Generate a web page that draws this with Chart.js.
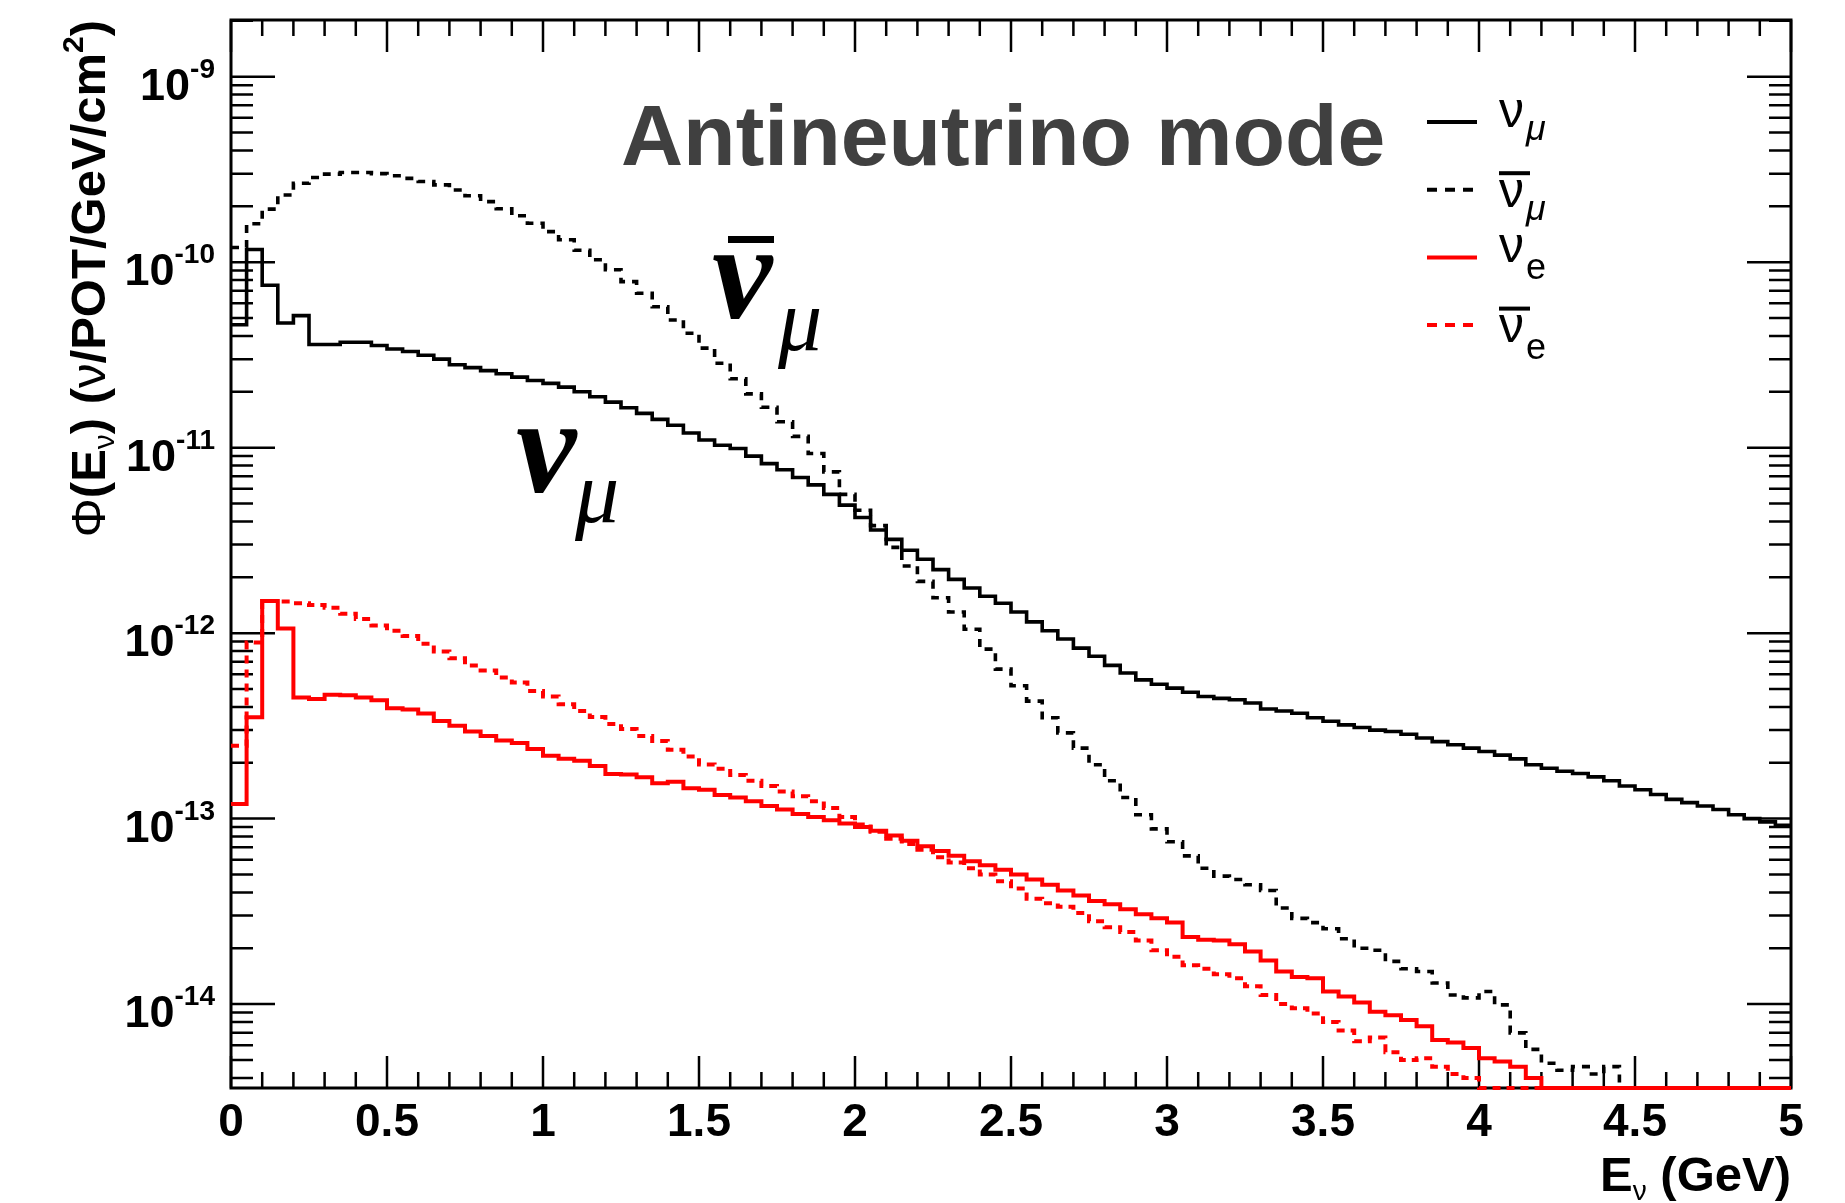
<!DOCTYPE html>
<html>
<head>
<meta charset="utf-8">
<script src="https://cdn.jsdelivr.net/npm/chart.js@4.4.1/dist/chart.umd.min.js"></script>
<style>
  html, body { margin: 0; padding: 0; background: #fff; }
  #wrap { width: 1845px; height: 1203px; }
</style>
</head>
<body>
<div id="wrap"><canvas id="fluxChart"></canvas></div>
<script>
// flux per bin, 100 bins of 0.05 GeV (0 - 5 GeV)
var binWidth = 0.05;
var xMax = 5;
var xTicks = [0, 0.5, 1, 1.5, 2, 2.5, 3, 3.5, 4, 4.5, 5];
var yTicks = [1e-14, 1e-13, 1e-12, 1e-11, 1e-10, 1e-9];
var yMin = 3.53e-15, yMax = 2.02e-9;

var numu = [4.6e-11, 1.17e-10, 7.5e-11, 4.7e-11, 5.15e-11, 3.6e-11, 3.6e-11, 3.7e-11, 3.7e-11, 3.55e-11,
  3.4e-11, 3.3e-11, 3.15e-11, 3.0e-11, 2.8e-11, 2.7e-11, 2.6e-11, 2.5e-11, 2.4e-11, 2.3e-11,
  2.22e-11, 2.12e-11, 2.0e-11, 1.88e-11, 1.76e-11, 1.64e-11, 1.53e-11, 1.42e-11, 1.32e-11, 1.2e-11,
  1.1e-11, 1.03e-11, 9.9e-12, 9.0e-12, 8.2e-12, 7.6e-12, 6.9e-12, 6.3e-12, 5.6e-12, 4.9e-12,
  4.2e-12, 3.6e-12, 3.2e-12, 2.8e-12, 2.5e-12, 2.2e-12, 1.95e-12, 1.75e-12, 1.58e-12, 1.45e-12,
  1.3e-12, 1.15e-12, 1.03e-12, 9.3e-13, 8.3e-13, 7.5e-13, 6.7e-13, 6.1e-13, 5.6e-13, 5.3e-13,
  5.05e-13, 4.8e-13, 4.55e-13, 4.45e-13, 4.37e-13, 4.2e-13, 3.9e-13, 3.8e-13, 3.7e-13, 3.5e-13,
  3.35e-13, 3.2e-13, 3.1e-13, 3.0e-13, 2.95e-13, 2.85e-13, 2.72e-13, 2.6e-13, 2.5e-13, 2.4e-13,
  2.3e-13, 2.2e-13, 2.1e-13, 1.95e-13, 1.87e-13, 1.8e-13, 1.75e-13, 1.68e-13, 1.6e-13, 1.5e-13,
  1.43e-13, 1.35e-13, 1.27e-13, 1.22e-13, 1.17e-13, 1.12e-13, 1.05e-13, 1.0e-13, 9.6e-14, 9.2e-14];

var numubar = [1.2e-10, 1.61e-10, 1.93e-10, 2.3e-10, 2.66e-10, 2.86e-10, 2.98e-10, 3.04e-10, 3.04e-10, 3.0e-10,
  2.92e-10, 2.83e-10, 2.72e-10, 2.61e-10, 2.45e-10, 2.28e-10, 2.12e-10, 1.94e-10, 1.78e-10, 1.62e-10,
  1.46e-10, 1.32e-10, 1.16e-10, 1.03e-10, 9.1e-11, 7.85e-11, 6.8e-11, 5.75e-11, 4.88e-11, 4.14e-11,
  3.44e-11, 2.85e-11, 2.35e-11, 1.95e-11, 1.65e-11, 1.38e-11, 1.15e-11, 9.3e-12, 7.4e-12, 5.6e-12,
  4.6e-12, 3.8e-12, 2.9e-12, 2.3e-12, 1.9e-12, 1.55e-12, 1.3e-12, 1.05e-12, 8.2e-13, 6.4e-13,
  5.2e-13, 4.3e-13, 3.5e-13, 2.9e-13, 2.4e-13, 1.95e-13, 1.6e-13, 1.3e-13, 1.05e-13, 8.8e-14,
  7.5e-14, 6.3e-14, 5.4e-14, 4.9e-14, 4.7e-14, 4.4e-14, 4.1e-14, 3.3e-14, 2.9e-14, 2.75e-14,
  2.55e-14, 2.25e-14, 2.0e-14, 1.95e-14, 1.7e-14, 1.55e-14, 1.5e-14, 1.3e-14, 1.12e-14, 1.08e-14,
  1.17e-14, 9.9e-15, 7.0e-15, 5.7e-15, 4.8e-15, 4.4e-15, 4.6e-15, 4.2e-15, 4.6e-15, 3.53e-15,
  3.53e-15, 3.53e-15, 3.53e-15, 3.53e-15, 3.53e-15, 3.53e-15, 3.53e-15, 3.53e-15, 3.53e-15, 3.53e-15];

var nue = [1.2e-13, 3.52e-13, 1.49e-12, 1.06e-12, 4.5e-13, 4.41e-13, 4.66e-13, 4.62e-13, 4.5e-13, 4.34e-13,
  3.93e-13, 3.88e-13, 3.69e-13, 3.36e-13, 3.17e-13, 2.95e-13, 2.79e-13, 2.64e-13, 2.56e-13, 2.37e-13,
  2.18e-13, 2.1e-13, 2.05e-13, 1.92e-13, 1.74e-13, 1.73e-13, 1.67e-13, 1.55e-13, 1.58e-13, 1.46e-13,
  1.43e-13, 1.34e-13, 1.3e-13, 1.24e-13, 1.17e-13, 1.12e-13, 1.06e-13, 1.02e-13, 9.8e-14, 9.4e-14,
  9.0e-14, 8.6e-14, 8.1e-14, 7.6e-14, 7.1e-14, 6.7e-14, 6.3e-14, 5.9e-14, 5.6e-14, 5.3e-14,
  5.0e-14, 4.7e-14, 4.4e-14, 4.1e-14, 3.85e-14, 3.6e-14, 3.45e-14, 3.25e-14, 3.05e-14, 2.9e-14,
  2.75e-14, 2.3e-14, 2.22e-14, 2.2e-14, 2.1e-14, 1.92e-14, 1.72e-14, 1.5e-14, 1.4e-14, 1.38e-14,
  1.17e-14, 1.1e-14, 1.02e-14, 9.1e-15, 8.7e-15, 8.2e-15, 7.6e-15, 6.4e-15, 6.2e-15, 5.8e-15,
  5.1e-15, 4.9e-15, 4.6e-15, 4.0e-15, 3.53e-15, 3.53e-15, 3.53e-15, 3.53e-15, 3.53e-15, 3.53e-15,
  3.53e-15, 3.53e-15, 3.53e-15, 3.53e-15, 3.53e-15, 3.53e-15, 3.53e-15, 3.53e-15, 3.53e-15, 3.53e-15];

var nuebar = [2.47e-13, 8.9e-13, 1.49e-12, 1.48e-12, 1.45e-12, 1.42e-12, 1.37e-12, 1.27e-12, 1.19e-12, 1.1e-12,
  1.03e-12, 9.64e-13, 8.77e-13, 7.96e-13, 7.31e-13, 6.7e-13, 6.29e-13, 5.77e-13, 5.42e-13, 4.87e-13,
  4.56e-13, 4.14e-13, 3.8e-13, 3.53e-13, 3.24e-13, 3.04e-13, 2.79e-13, 2.62e-13, 2.35e-13, 2.16e-13,
  1.96e-13, 1.86e-13, 1.72e-13, 1.6e-13, 1.5e-13, 1.4e-13, 1.32e-13, 1.24e-13, 1.14e-13, 1.02e-13,
  9.3e-14, 8.5e-14, 7.8e-14, 7.3e-14, 6.8e-14, 6.2e-14, 5.8e-14, 5.4e-14, 5.0e-14, 4.6e-14,
  4.2e-14, 3.7e-14, 3.5e-14, 3.35e-14, 3.1e-14, 2.8e-14, 2.6e-14, 2.45e-14, 2.2e-14, 1.95e-14,
  1.8e-14, 1.62e-14, 1.55e-14, 1.45e-14, 1.38e-14, 1.25e-14, 1.12e-14, 1.0e-14, 9.5e-15, 8.9e-15,
  8.0e-15, 7.2e-15, 6.3e-15, 6.6e-15, 5.5e-15, 5.0e-15, 5.1e-15, 4.6e-15, 4.2e-15, 4.0e-15,
  3.53e-15, 3.53e-15, 3.53e-15, 3.53e-15, 3.53e-15, 3.53e-15, 3.53e-15, 3.53e-15, 3.53e-15, 3.53e-15,
  3.53e-15, 3.53e-15, 3.53e-15, 3.53e-15, 3.53e-15, 3.53e-15, 3.53e-15, 3.53e-15, 3.53e-15, 3.53e-15];

var SANS = '"Liberation Sans", Arial, Helvetica, sans-serif';
var SERIF = '"Liberation Serif", "Times New Roman", serif';

// histogram -> points at the left bin edges, plus the closing edge
function toSteps(values) {
  var pts = values.map(function(v, i) { return { x: i * binWidth, y: v }; });
  pts.push({ x: xMax, y: values[values.length - 1] });
  return pts;
}

// draw text pieces one after the other: [text, font, dy]
function runsWidth(ctx, runs) {
  var w = 0;
  runs.forEach(function(r) { ctx.font = r[1]; w += ctx.measureText(r[0]).width; });
  return w;
}
function drawRuns(ctx, x, y, runs) {
  runs.forEach(function(r) {
    ctx.font = r[1];
    ctx.fillText(r[0], x, y + (r[2] || 0));
    x += ctx.measureText(r[0]).width;
  });
  return x;
}

var legendItems = [
  { color: '#000000', dash: [], bar: false, sub: 'μ', subFont: 'italic 36px ' + SANS },
  { color: '#000000', dash: [10, 8], bar: true, sub: 'μ', subFont: 'italic 36px ' + SANS },
  { color: '#ff0000', dash: [], bar: false, sub: 'e', subFont: '36px ' + SANS },
  { color: '#ff0000', dash: [10, 8], bar: true, sub: 'e', subFont: '36px ' + SANS }
];

// ROOT style frame with inward ticks on all four sides
var rootFrame = {
  id: 'rootFrame',
  beforeDatasetsDraw: function(chart) {
    var ctx = chart.ctx, a = chart.chartArea;
    var xs = chart.scales.x, ys = chart.scales.y;
    ctx.save();
    ctx.strokeStyle = '#000';
    ctx.lineWidth = 2.5;
    ctx.beginPath();
    for (var k = 0; k <= 50; k++) {
      var px = xs.getPixelForValue(k / 10);
      var len = (k % 5 === 0) ? 32 : 16;
      ctx.moveTo(px, a.bottom); ctx.lineTo(px, a.bottom - len);
      ctx.moveTo(px, a.top); ctx.lineTo(px, a.top + len);
    }
    for (var e = -15; e <= -9; e++) {
      for (var m = 1; m <= 9; m++) {
        var v = m * Math.pow(10, e);
        if (v < yMin || v > yMax) continue;
        var py = ys.getPixelForValue(v);
        var l = (m === 1) ? 44 : 22;
        ctx.moveTo(a.left, py); ctx.lineTo(a.left + l, py);
        ctx.moveTo(a.right, py); ctx.lineTo(a.right - l, py);
      }
    }
    ctx.stroke();
    ctx.lineWidth = 3;
    ctx.strokeRect(a.left, a.top, a.right - a.left, a.bottom - a.top);
    ctx.restore();
  },
  afterDraw: function(chart) {
    var ctx = chart.ctx, a = chart.chartArea;
    var ys = chart.scales.y;
    ctx.save();
    ctx.fillStyle = '#000';
    ctx.textAlign = 'left';
    ctx.textBaseline = 'alphabetic';

    // y tick labels 10^n
    yTicks.forEach(function(v) {
      var py = ys.getPixelForValue(v);
      var runs = [['10', 'bold 45px ' + SANS, 23], ['-' + Math.round(-Math.log10(v)), 'bold 28px ' + SANS, 1]];
      drawRuns(ctx, a.left - 16 - runsWidth(ctx, runs), py, runs);
    });

    // y title, rotated
    var yRuns = [
      ['Φ', '49px ' + SANS, 0], ['(E', 'bold 49px ' + SANS, 0], ['ν', '30px ' + SANS, 9],
      [') (', 'bold 49px ' + SANS, 0], ['ν', '49px ' + SANS, 0], ['/POT/GeV/cm', 'bold 49px ' + SANS, 0],
      ['2', 'bold 30px ' + SANS, -22], [')', 'bold 49px ' + SANS, 0]
    ];
    var wy = runsWidth(ctx, yRuns);
    ctx.save();
    ctx.translate(105, 20 + wy);
    ctx.rotate(-Math.PI / 2);
    drawRuns(ctx, 0, 0, yRuns);
    ctx.restore();

    // x title
    var xRuns = [['E', 'bold 49px ' + SANS, 0], ['ν', '28px ' + SANS, 9], [' (GeV)', 'bold 49px ' + SANS, 0]];
    drawRuns(ctx, a.right - runsWidth(ctx, xRuns), 1191, xRuns);

    // title
    ctx.fillStyle = '#404040';
    ctx.font = 'bold 86px ' + SANS;
    ctx.fillText('Antineutrino mode', 621, 165);

    // legend
    legendItems.forEach(function(it, i) {
      var ly = 122 + i * 67.7;
      ctx.strokeStyle = it.color;
      ctx.lineWidth = 4;
      ctx.setLineDash(it.dash);
      ctx.beginPath(); ctx.moveTo(1427, ly); ctx.lineTo(1477, ly); ctx.stroke();
      ctx.setLineDash([]);
      var off = it.bar ? 12 : 0;
      ctx.fillStyle = '#000';
      ctx.font = '50px ' + SANS;
      var wn = ctx.measureText('ν').width;
      ctx.fillText('ν', 1499, ly + 5 + off);
      if (it.bar) ctx.fillRect(1499, ly - 18.5, wn + 6, 4);
      ctx.font = it.subFont;
      ctx.fillText(it.sub, 1501 + wn, ly + (it.sub === 'e' ? 22 : 18) + off);
    });

    // curve labels
    ctx.fillStyle = '#000';
    ctx.font = 'italic bold 136px ' + SERIF;
    ctx.fillText('ν', 712, 318);
    ctx.fillRect(728, 236, 46, 7);
    ctx.font = 'italic 88px ' + SERIF;
    ctx.fillText('μ', 778, 350);
    ctx.font = 'italic bold 136px ' + SERIF;
    ctx.fillText('ν', 516, 492);
    ctx.font = 'italic 88px ' + SERIF;
    ctx.fillText('μ', 575, 522);
    ctx.restore();
  }
};

function histSet(label, values, color, width, dash, order) {
  return {
    label: label,
    data: toSteps(values),
    borderColor: color,
    borderWidth: width,
    borderDash: dash,
    stepped: true,
    pointRadius: 0,
    fill: false,
    clip: 4,
    order: order
  };
}

var ctx = document.getElementById('fluxChart').getContext('2d');
var fluxChart = new Chart(ctx, {
  type: 'line',
  data: {
    datasets: [
      histSet('ν_μ', numu, '#000000', 3.6, [], 3),
      histSet('anti-ν_μ', numubar, '#000000', 3.6, [8, 7], 2),
      histSet('ν_e', nue, '#ff0000', 4, [], 1),
      histSet('anti-ν_e', nuebar, '#ff0000', 4, [8, 6], 0)
    ]
  },
  options: {
    responsive: true,
    maintainAspectRatio: false,
    animation: false,
    layout: { padding: { top: 20, right: 54, left: 0, bottom: 0 } },
    plugins: { legend: { display: false }, tooltip: { enabled: false } },
    scales: {
      x: {
        type: 'linear',
        min: 0,
        max: xMax,
        afterBuildTicks: function(scale) {
          scale.ticks = xTicks.map(function(v) { return { value: v }; });
        },
        afterFit: function(scale) { scale.height = 115; },
        ticks: {
          autoSkip: false,
          maxRotation: 0,
          minRotation: 0,
          padding: 8,
          color: '#000',
          font: { family: SANS, size: 46, weight: 'bold' },
          callback: function(value) { return String(value); }
        },
        grid: { display: false, drawTicks: false },
        border: { display: false }
      },
      y: {
        type: 'logarithmic',
        min: yMin,
        max: yMax,
        afterFit: function(scale) { scale.width = 231; },
        ticks: { display: false },
        grid: { display: false, drawTicks: false },
        border: { display: false }
      }
    }
  },
  plugins: [rootFrame]
});
</script>
</body>
</html>
